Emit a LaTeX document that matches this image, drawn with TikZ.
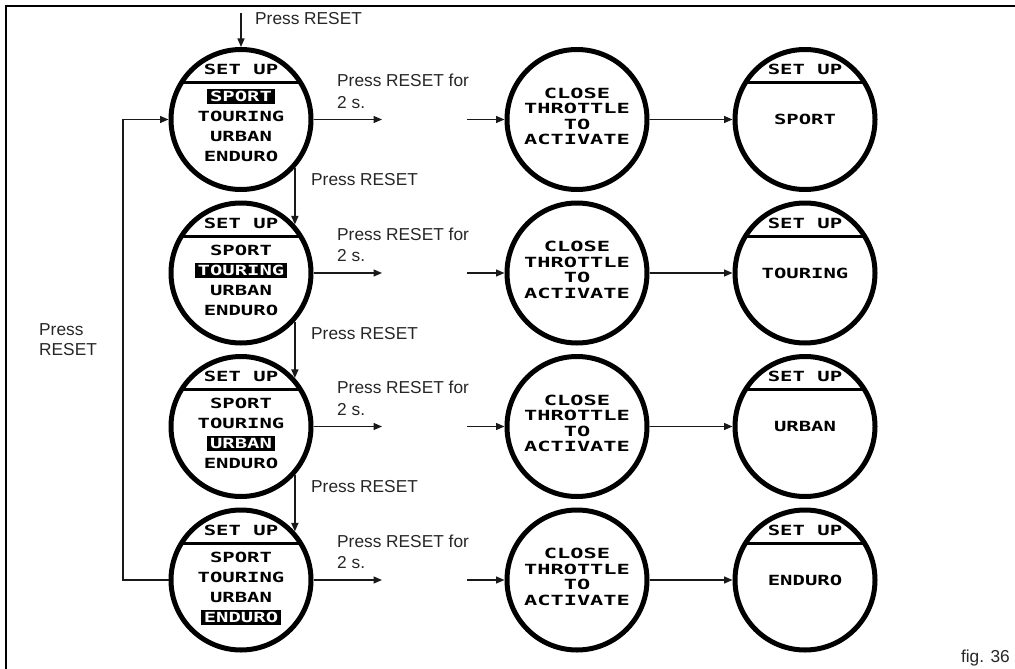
\documentclass[tikz,border=0pt]{standalone}
\usepackage{fontspec}
\setmainfont{Liberation Sans}
\newfontfamily\lcdfamily[FakeStretch=1.47]{DejaVu Sans Mono}
\newfontfamily\lcdwidefamily[FakeStretch=1.57]{DejaVu Sans Mono}
\usetikzlibrary{arrows.meta,calc}
\begin{document}
\begin{tikzpicture}[x=1pt,y=-1pt,
  txt/.style={font=\fontsize{17.3}{20}\selectfont, text=black!85, inner sep=0pt},
  txtb/.style={font=\fontsize{17.3}{21.5}\selectfont, text=black!85, inner sep=0pt},
  lcd/.style={font=\lcdfamily\bfseries\fontsize{14}{15.5}\selectfont, inner sep=0pt},
  lcdw/.style={font=\lcdwidefamily\bfseries\fontsize{14}{15.5}\selectfont, inner sep=0pt},
  hl/.style={lcd, fill=black, text=white, inner xsep=3pt, inner ysep=0pt, minimum height=15pt},
  disp/.style={circle, draw, line width=5pt, minimum size=140pt, inner sep=0pt},
  arr/.style={line width=1.4pt, draw=black!90, -{Triangle[length=8.5pt,width=7pt]}},
  sepline/.style={line width=3pt},
  frame/.style={line width=2pt}]
\useasboundingbox (0,0) rectangle (1015,669);
% frame
\draw[frame] (6,669) -- (6,6) -- (1015,6);

\foreach \i/\y/\m in {1/119.5/SPORT,2/273/TOURING,3/426.5/URBAN,4/580/ENDURO}{
  % column 1: menu display
  \node[disp] (a\i) at (241,\y) {};
  \draw[sepline] (241-59,\y-37) -- (241+59,\y-37);
  \node[lcd] (sa\i) at (241,\y-50) {SET UP};
  \foreach \j/\w/\o in {1/SPORT/-23,2/TOURING/-3,3/URBAN/17,4/ENDURO/37}{
    \ifnum\i=\j
      \node[hl] (it\i\j) at (241,\y+\o) {\w};
    \else
      \node[lcd] (it\i\j) at (241,\y+\o) {\w};
    \fi
  }
  % column 2: close throttle
  \node[disp] (b\i) at (577,\y) {};
  \node[lcdw, align=center] (bt\i) at (577,\y-3) {CLOSE\\THROTTLE\\TO\\ACTIVATE};
  % column 3: result
  \node[disp] (c\i) at (805,\y) {};
  \draw[sepline] (805-59,\y-37) -- (805+59,\y-37);
  \node[lcd] (sc\i) at (805,\y-50) {SET UP};
  \node[lcd] (mc\i) at (805,\y) {\m};
  % arrows
  \coordinate (m\i) at (382,\y);
  \coordinate (n\i) at (467,\y);
  \draw[arr] (a\i.east) -- (m\i);
  \draw[arr] (n\i) -- (b\i.west);
  \draw[arr] (b\i.east) -- (c\i.west);
  \node[txtb, anchor=west, align=left] (lf\i) at (337,\y-28) {Press RESET for\\2 s.};
}

% top entry
\coordinate (top) at (241,13);
\draw[arr] (top) -- (a1.north);
\node[txt, anchor=west] (ltop) at (255,19) {Press RESET};

% vertical arrows between menu displays
\draw[arr] (a1.-42) -- (a1.-42 |- a2.42);
\draw[arr] (a2.-42) -- (a2.-42 |- a3.42);
\draw[arr] (a3.-42) -- (a3.-42 |- a4.42);
\node[txt, anchor=west] (l12) at (311,119.5+60.5) {Press RESET};
\node[txt, anchor=west] (l23) at (311,273+60.5) {Press RESET};
\node[txt, anchor=west] (l34) at (311,426.5+60.5) {Press RESET};

% feedback loop
\coordinate (lb) at (123,580);
\coordinate (lt) at (123,119.5);
\draw[arr] (a4.west) -- (lb) -- (lt) -- (a1.west);
\node[txt, anchor=west, align=left] (lloop) at (39,340) {Press\\RESET};

% figure caption
\node[txt, anchor=east] (fig) at (1010,658) {fig. 36};
\end{tikzpicture}
\end{document}
